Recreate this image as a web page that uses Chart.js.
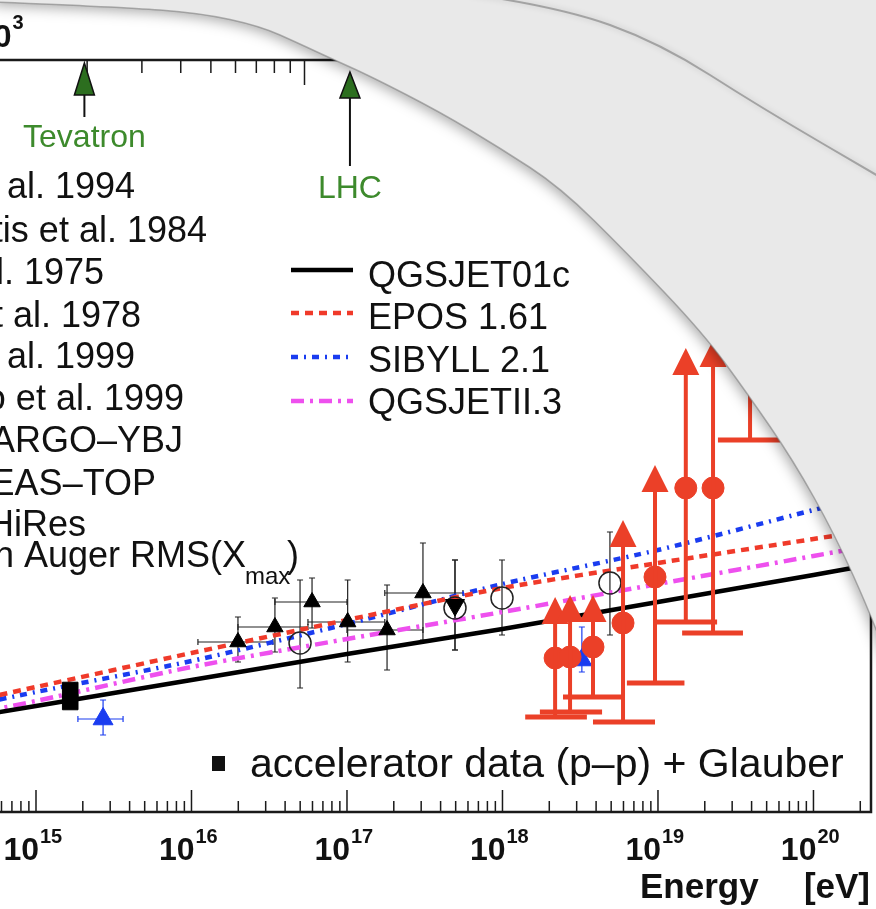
<!DOCTYPE html>
<html>
<head>
<meta charset="utf-8">
<script src="https://cdn.jsdelivr.net/npm/chart.js@4.4.1/dist/chart.umd.min.js"></script>
<style>
html, body { margin: 0; padding: 0; background: #fff; overflow: hidden; }
#wrap { position: relative; width: 876px; height: 909px; }
</style>
</head>
<body>
<div id="wrap"><canvas id="myChart" width="876" height="909"></canvas></div>
<script>
// model curves: sigma p-air [mb] vs energy [eV]
const modelEnergy = [3.16e14, 1e15, 1e16, 1e17, 1e18, 1e19, 1e20, 3.16e20];
const qgsjet01c = [293, 306, 332, 358, 383, 410, 437, 451];
const epos161 = [308, 325, 359, 392, 424, 449, 473, 485];
const sibyll21 = [304, 320, 351, 388, 428, 462, 502, 522];
const qgsjetII3 = [295, 311, 345, 373, 400, 428, 456, 470];

// black up-triangles
const triE = [1.99e16, 3.44e16, 5.96e16, 1.01e17, 1.81e17, 3.08e17];
const triELo = [1.10e16, 1.99e16, 3.44e16, 5.61e16, 1.00e17, 1.75e17];
const triEHi = [3.34e16, 5.61e16, 1.00e17, 1.75e17, 3.08e17, 5.57e17];
const triS = [370, 385, 410, 390, 382, 419];
const triSLo = [350, 360, 384, 350, 342, 372];
const triSHi = [395, 414, 434, 432, 427, 469];

// black down-triangle
const downE = [4.95e17];
const downS = [407];
const downSLo = [362];
const downSHi = [452];

// open circles
const circE = [4.99e16, 4.95e17, 9.93e17, 4.91e18];
const circS = [369, 404, 414, 429];
const circSLo = [324, 362, 377, 377];
const circSHi = [432, 452, 452, 480];

// accelerator data (p-p) + Glauber
const accE = [1.66e15, 1.66e15];
const accS = [322, 310];

// blue triangles
const blueE = [2.70e15, 3.24e18];
const blueELo = [1.86e15, null];
const blueEHi = [3.63e15, null];
const blueS = [293, 352];
const blueSLo = [277, 340];
const blueSHi = [312, 385];

// red points with lower-limit arrows
const redE = [2.18e18, 2.72e18, 3.82e18, 5.96e18, 9.57e18, 1.51e19, 2.26e19, 3.91e19];
const redELo = [1.40e18, 1.74e18, 2.45e18, 3.82e18, 6.31e18, 9.77e18, 1.43e19, 2.43e19];
const redEHi = [3.49e18, 4.37e18, 5.86e18, 9.57e18, 1.48e19, 2.40e19, 3.52e19, 6.10e19];
const redS = [354, 355, 365, 389, 435, 524, 524, 712];
const redSLo = [295, 300, 315, 290, 329, 390, 379, 572];
const redSUp = [415, 417, 417, 492, 547, 664, 672, 842];

// axis ticks
const decadeTicks = [15, 16, 17, 18, 19, 20];
const sqrtSMajor = [1e3, 1e4, 1e5];
const tevatronSqrtS = 1960;   // GeV
const lhcSqrtS = 14000;       // GeV

const leftLegend = [
    'Mielke et al. 1994',
    'Baltrusaitis et al. 1984',
    'Nam et al. 1975',
    'Siohan et al. 1978',
    'Honda et al. 1999',
    'Knurenko et al. 1999',
    'ARGO\u2013YBJ',
    'EAS\u2013TOP',
    'HiRes'
];
const modelNames = ['QGSJET01c', 'EPOS 1.61', 'SIBYLL 2.1', 'QGSJETII.3'];

const RED = '#eb4028';
const BLUE = '#1a3cf0';
const MAG = '#ee50ee';
const modelColors = ['#000000', '#f03a2a', '#1a3cf0', MAG];
const modelDash = [[], [8, 6], [7, 6, 2, 6], [13, 6, 3, 6]];

function pts(xs, ys) {
    return xs.map((x, i) => ({ x: x, y: ys[i] }));
}

// E[eV] from sqrt(s)[GeV] for p on fixed target
function energyFromSqrtS(rs) {
    return rs * rs / (2 * 0.938) * 1e9;
}

function txt(ctx, s, x, y, font, color, align) {
    ctx.font = font;
    ctx.fillStyle = color;
    ctx.textAlign = align || 'left';
    ctx.textBaseline = 'alphabetic';
    ctx.fillText(s, x, y);
}

function smoothPath(ctx, p) {
    ctx.moveTo(p[0][0], p[0][1]);
    for (let i = 1; i < p.length - 1; i++) {
        const mx = (p[i][0] + p[i + 1][0]) / 2;
        const my = (p[i][1] + p[i + 1][1]) / 2;
        ctx.quadraticCurveTo(p[i][0], p[i][1], mx, my);
    }
    ctx.lineTo(p[p.length - 1][0], p[p.length - 1][1]);
}

const decor = {
    id: 'decor',
    beforeDatasetsDraw(chart) {
        const ctx = chart.ctx;
        const xs = chart.scales.x, ys = chart.scales.y;
        ctx.save();
        ctx.strokeStyle = '#222';
        ctx.lineWidth = 1.2;
        const cap = 3;
        function vbar(e, lo, hi) {
            const x = xs.getPixelForValue(e);
            const y1 = ys.getPixelForValue(lo), y2 = ys.getPixelForValue(hi);
            ctx.beginPath();
            ctx.moveTo(x, y1); ctx.lineTo(x, y2);
            ctx.moveTo(x - cap, y1); ctx.lineTo(x + cap, y1);
            ctx.moveTo(x - cap, y2); ctx.lineTo(x + cap, y2);
            ctx.stroke();
        }
        function hbar(lo, hi, s) {
            const y = ys.getPixelForValue(s);
            const x1 = xs.getPixelForValue(lo), x2 = xs.getPixelForValue(hi);
            ctx.beginPath();
            ctx.moveTo(x1, y); ctx.lineTo(x2, y);
            ctx.moveTo(x1, y - cap); ctx.lineTo(x1, y + cap);
            ctx.moveTo(x2, y - cap); ctx.lineTo(x2, y + cap);
            ctx.stroke();
        }
        triE.forEach((e, i) => { vbar(e, triSLo[i], triSHi[i]); hbar(triELo[i], triEHi[i], triS[i]); });
        downE.forEach((e, i) => vbar(e, downSLo[i], downSHi[i]));
        circE.forEach((e, i) => vbar(e, circSLo[i], circSHi[i]));
        ctx.strokeStyle = BLUE;
        blueE.forEach((e, i) => {
            vbar(e, blueSLo[i], blueSHi[i]);
            if (blueELo[i]) hbar(blueELo[i], blueEHi[i], blueS[i]);
        });
        ctx.restore();
    },
    afterDatasetsDraw(chart) {
        const ctx = chart.ctx;
        const xs = chart.scales.x, ys = chart.scales.y;
        const a = chart.chartArea;
        ctx.save();
        ctx.beginPath();
        ctx.rect(a.left, a.top, a.right - a.left, a.bottom - a.top);
        ctx.clip();
        ctx.strokeStyle = RED;
        ctx.fillStyle = RED;
        redE.forEach((e, i) => {
            const x = xs.getPixelForValue(e);
            const yLo = ys.getPixelForValue(redSLo[i]);
            const yUp = ys.getPixelForValue(redSUp[i]);
            const x1 = xs.getPixelForValue(redELo[i]), x2 = xs.getPixelForValue(redEHi[i]);
            ctx.lineWidth = 4;
            ctx.beginPath();
            ctx.moveTo(x, yLo); ctx.lineTo(x, yUp + 20);
            ctx.stroke();
            ctx.lineWidth = 5;
            ctx.beginPath();
            ctx.moveTo(x1, yLo); ctx.lineTo(x2, yLo);
            ctx.stroke();
            ctx.beginPath();
            ctx.moveTo(x, yUp);
            ctx.lineTo(x + 13.5, yUp + 27);
            ctx.lineTo(x - 13.5, yUp + 27);
            ctx.closePath();
            ctx.fill();
        });
        ctx.restore();
    },
    afterDraw(chart) {
        const ctx = chart.ctx;
        const xs = chart.scales.x;
        const a = chart.chartArea;
        ctx.save();

        // frame
        ctx.strokeStyle = '#1a1a1a';
        ctx.lineWidth = 2.5;
        ctx.beginPath();
        ctx.moveTo(a.left - 2, a.top); ctx.lineTo(a.right, a.top);
        ctx.lineTo(a.right, a.bottom); ctx.lineTo(a.left - 2, a.bottom);
        ctx.stroke();

        // bottom ticks (inward)
        ctx.lineWidth = 1.5;
        ctx.beginPath();
        for (let d = 14; d <= 20; d++) {
            for (let k = 1; k <= 9; k++) {
                const e = k * Math.pow(10, d);
                const x = xs.getPixelForValue(e);
                if (x < a.left - 1 || x > a.right) continue;
                const len = k === 1 ? 22 : 11;
                ctx.moveTo(x, a.bottom); ctx.lineTo(x, a.bottom - len);
            }
        }
        // top ticks in sqrt(s)
        for (let d = 2; d <= 5; d++) {
            for (let k = 1; k <= 9; k++) {
                const x = xs.getPixelForValue(energyFromSqrtS(k * Math.pow(10, d)));
                if (x < a.left - 1 || x > a.right) continue;
                const len = k === 1 ? 25 : 13;
                ctx.moveTo(x, a.top); ctx.lineTo(x, a.top + len);
            }
        }
        ctx.stroke();

        // bottom labels 10^n
        decadeTicks.forEach(d => {
            const x = xs.getPixelForValue(Math.pow(10, d));
            txt(ctx, '10', x + 3, 860, 'bold 32px "Liberation Sans", Arial, sans-serif', '#111', 'right');
            txt(ctx, String(d), x + 4, 843, 'bold 20px "Liberation Sans", Arial, sans-serif', '#111', 'left');
        });
        // top label 10^3 (only partly in view)
        const x3 = xs.getPixelForValue(energyFromSqrtS(sqrtSMajor[0]));
        txt(ctx, '10', x3 + 18, 47, 'bold 32px "Liberation Sans", Arial, sans-serif', '#111', 'right');
        txt(ctx, '3', x3 + 19, 29, 'bold 20px "Liberation Sans", Arial, sans-serif', '#111', 'left');

        // axis title
        txt(ctx, 'Energy', 640, 898, 'bold 35px "Liberation Sans", Arial, sans-serif', '#111', 'left');
        txt(ctx, '[eV]', 870, 898, 'bold 35px "Liberation Sans", Arial, sans-serif', '#111', 'right');

        // Tevatron / LHC arrows
        function arrow(rs, yTip, headLen, yEnd, label, yLabel) {
            const x = xs.getPixelForValue(energyFromSqrtS(rs));
            ctx.strokeStyle = '#111';
            ctx.lineWidth = 2;
            ctx.beginPath();
            ctx.moveTo(x, yEnd); ctx.lineTo(x, yTip + headLen - 5);
            ctx.stroke();
            ctx.fillStyle = '#2c6e1f';
            ctx.lineWidth = 1.5;
            ctx.beginPath();
            ctx.moveTo(x, yTip);
            ctx.lineTo(x + 10, yTip + headLen);
            ctx.lineTo(x - 10, yTip + headLen);
            ctx.closePath();
            ctx.fill();
            ctx.stroke();
            txt(ctx, label, x, yLabel, '32px "Liberation Sans", Arial, sans-serif', '#3d8a2c', 'center');
        }
        arrow(tevatronSqrtS, 63, 32, 117, 'Tevatron', 147);
        arrow(lhcSqrtS, 72, 26, 166, 'LHC', 198);

        // left legend (clipped by the image edge)
        const legFont = '36px "Liberation Sans", Arial, sans-serif';
        const legRight = [135, 207, 104, 141, 135, 184, 183, 156, 86];
        const legBase = [198, 242, 284, 327, 368, 410, 452, 495, 536];
        leftLegend.forEach((s, i) => txt(ctx, s, legRight[i], legBase[i], legFont, '#111', 'right'));
        txt(ctx, 'Ulrich et al. on Auger RMS(X', 246, 567, legFont, '#111', 'right');
        txt(ctx, 'max', 245, 584, '24px "Liberation Sans", Arial, sans-serif', '#111', 'left');
        txt(ctx, ')', 287, 567, legFont, '#111', 'left');

        // model legend
        const sampY = [270, 313, 357, 401];
        const textY = [287, 329, 372, 414];
        modelNames.forEach((s, i) => {
            ctx.strokeStyle = modelColors[i];
            ctx.lineWidth = 4.5;
            ctx.setLineDash(modelDash[i]);
            ctx.beginPath();
            ctx.moveTo(291, sampY[i]); ctx.lineTo(353, sampY[i]);
            ctx.stroke();
            ctx.setLineDash([]);
            txt(ctx, s, 368, textY[i], legFont, '#111', 'left');
        });

        // bottom legend
        ctx.fillStyle = '#111';
        ctx.fillRect(212, 756, 13, 15);
        txt(ctx, 'accelerator data (p\u2013p) + Glauber', 250, 777, '41px "Liberation Sans", Arial, sans-serif', '#111', 'left');

        // page curl
        const edge = [[-5, 2], [120, 7], [200, 13], [260, 26], [300, 44], [330, 58], [370, 76], [440, 112],
            [500, 148], [560, 187], [627, 253], [703, 333], [747, 393], [793, 460], [835, 535], [871, 615], [895, 680]];
        ctx.save();
        ctx.beginPath();
        smoothPath(ctx, edge);
        ctx.lineTo(895, -20);
        ctx.lineTo(-5, -20);
        ctx.closePath();
        ctx.shadowColor = 'rgba(0,0,0,0.35)';
        ctx.shadowBlur = 14;
        ctx.shadowOffsetX = -2;
        ctx.shadowOffsetY = 3;
        ctx.fillStyle = '#e9e9e9';
        ctx.fill();
        ctx.restore();
        ctx.save();
        ctx.beginPath();
        smoothPath(ctx, edge);
        ctx.strokeStyle = 'rgba(120,120,120,0.55)';
        ctx.lineWidth = 1.5;
        ctx.stroke();
        const fold = [[470, -6], [560, 7], [660, 43], [760, 107], [885, 180]];
        ctx.beginPath();
        smoothPath(ctx, fold);
        ctx.strokeStyle = 'rgba(90,90,90,0.45)';
        ctx.lineWidth = 2;
        ctx.shadowColor = 'rgba(0,0,0,0.4)';
        ctx.shadowBlur = 6;
        ctx.stroke();
        ctx.restore();

        ctx.restore();
    }
};

const ctx = document.getElementById('myChart').getContext('2d');

const modelSets = [qgsjet01c, epos161, sibyll21, qgsjetII3].map((vals, i) => ({
    type: 'line',
    label: modelNames[i],
    data: pts(modelEnergy, vals),
    borderColor: modelColors[i],
    borderWidth: 4.5,
    borderDash: modelDash[i],
    pointRadius: 0,
    fill: false,
    tension: 0.25,
    order: 10
}));

const chart = new Chart(ctx, {
    type: 'scatter',
    data: {
        datasets: modelSets.concat([
            {
                label: 'triangles',
                data: pts(triE, triS),
                pointStyle: 'triangle',
                pointRadius: 9.5,
                backgroundColor: '#000',
                borderColor: '#000',
                borderWidth: 1,
                order: 5
            },
            {
                label: 'down',
                data: pts(downE, downS),
                pointStyle: 'triangle',
                rotation: 180,
                pointRadius: 11,
                backgroundColor: '#000',
                borderColor: '#000',
                borderWidth: 1,
                order: 5
            },
            {
                label: 'circles',
                data: pts(circE, circS),
                pointStyle: 'circle',
                pointRadius: 11,
                backgroundColor: 'rgba(0,0,0,0)',
                borderColor: '#222',
                borderWidth: 1.5,
                order: 5
            },
            {
                label: 'accelerator data (p\u2013p) + Glauber',
                data: pts(accE, accS),
                pointStyle: 'rect',
                pointRadius: 11,
                backgroundColor: '#000',
                borderColor: '#000',
                borderWidth: 1,
                order: 5
            },
            {
                label: 'blue',
                data: pts(blueE, blueS),
                pointStyle: 'triangle',
                pointRadius: 11.5,
                backgroundColor: BLUE,
                borderColor: BLUE,
                borderWidth: 1,
                order: 6
            },
            {
                label: 'red',
                data: pts(redE, redS),
                pointStyle: 'circle',
                pointRadius: 11,
                backgroundColor: RED,
                borderColor: RED,
                borderWidth: 1,
                order: 1
            }
        ])
    },
    options: {
        responsive: false,
        animation: false,
        devicePixelRatio: 1,
        layout: { autoPadding: false, padding: { left: 0, right: 5, top: 60, bottom: 97 } },
        plugins: {
            legend: { display: false },
            tooltip: { enabled: false }
        },
        scales: {
            x: { type: 'logarithmic', min: Math.pow(10, 14.7685), max: Math.pow(10, 20.37), display: false },
            y: { type: 'linear', min: 200, max: 952, display: false }
        }
    },
    plugins: [decor]
});
</script>
</body>
</html>
